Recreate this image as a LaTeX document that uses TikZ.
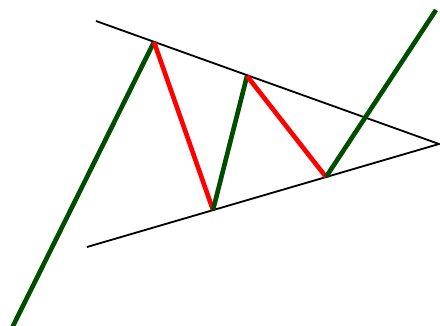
\documentclass[tikz,border=0pt]{standalone}
\usepackage{xcolor}
\usepackage{tikz}

\definecolor{bullgreen}{RGB}{0,77,0}
\definecolor{bearred}{RGB}{255,0,0}

\begin{document}
\begin{tikzpicture}[
    x=0.025cm, y=-0.025cm,
    trend/.style={line width=1.3pt, black},
    upleg/.style={line width=3.3pt, bullgreen},
    downleg/.style={line width=3.3pt, bearred},
  ]
  \useasboundingbox (0,0) rectangle (440,326);

  %% ---- swing points --------------------------------------------------
  \coordinate (start) at (12,328);
  \coordinate (top1)  at (154,42);
  \coordinate (low1)  at (213,210);
  \coordinate (top2)  at (247,76);
  \coordinate (low2)  at (326,177);
  \coordinate (break) at (436,10);

  %% ---- converging trend lines -----------------------------------------
  \coordinate (resA) at (96,21);
  \coordinate (supA) at (87,247);
  \coordinate (apex) at (439,144);
  \draw[trend] (resA) -- (apex) -- (supA);

  %% ---- price path ------------------------------------------------------
  \draw[upleg]   (start) -- (top1);
  \draw[downleg] (top1) -- (low1);
  \draw[upleg]   (low1) -- (top2);
  \draw[downleg] (top2) -- (low2);
  \draw[upleg]   (low2) -- (break);
\end{tikzpicture}
\end{document}
